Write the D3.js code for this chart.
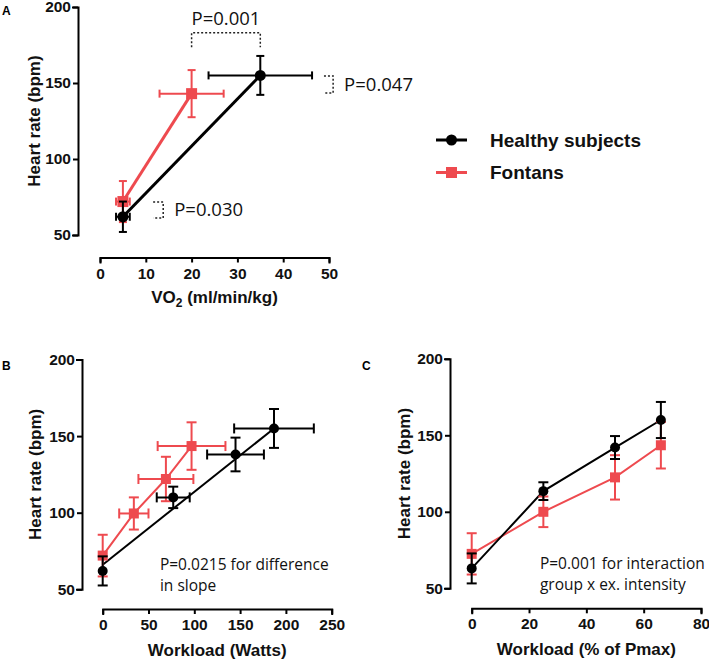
<!DOCTYPE html>
<html>
<head>
<meta charset="utf-8">
<script src="https://cdn.jsdelivr.net/npm/d3@7"></script>
<style>
  body { margin: 0; background: #fff; }
  svg { display: block; font-family: "Liberation Sans", Arial, sans-serif; }
  .axis path, .axis line { stroke: #000; stroke-width: 2; }
  .axis text { font-family: "Liberation Sans", Arial, sans-serif; font-size: 15.5px; font-weight: bold; fill: #111; }
  .title { font-size: 17px; font-weight: bold; fill: #111; }
  .note { font-family: "Open Sans", "Noto Sans", sans-serif; fill: #111; }
  .panel { font-size: 12px; font-weight: bold; }
</style>
</head>
<body>
<svg id="chart" width="709" height="660"></svg>
<script>
const groups = ['Healthy subjects', 'Fontans'];
const colors = ['#000000', '#ee4a4f'];

// panel A: VO2 vs heart rate (mean, sd)
const aHealthy = [
  { x: 5, xe: 1.5, y: 62, ye: 10 },
  { x: 35, xe: 11.3, y: 155, ye: 12.8 }
];
const aFontan = [
  { x: 5, xe: 1.5, y: 72, ye: 13.5 },
  { x: 20, xe: 7, y: 143, ye: 15.5 }
];

// panel B: workload in watts
const bHealthy = [
  { x: 0, xe: 0, y: 62, ye: 9.5 },
  { x: 77, xe: 18, y: 110, ye: 7 },
  { x: 145, xe: 31, y: 138, ye: 11 },
  { x: 187, xe: 43.5, y: 155, ye: 12.7 }
];
const bHealthyFit = [{ x: 0, y: 66 }, { x: 187, y: 155 }];
const bFontan = [
  { x: 0, xe: 0, y: 72, ye: 13.6 },
  { x: 34, xe: 16, y: 99.5, ye: 10.5 },
  { x: 69, xe: 30, y: 122, ye: 14.5 },
  { x: 97, xe: 37, y: 143.5, ye: 15.5 }
];

// panel C: workload in % of Pmax
const cHealthy = [
  { x: 0, xe: 0, y: 63, ye: 9.8 },
  { x: 25, xe: 0, y: 113.5, ye: 5.8 },
  { x: 50, xe: 0, y: 142, ye: 7.5 },
  { x: 66, xe: 0, y: 160, ye: 11.8 }
];
const cFontan = [
  { x: 0, xe: 0, y: 72.5, ye: 13.5 },
  { x: 25, xe: 0, y: 100, ye: 10 },
  { x: 50, xe: 0, y: 122.5, ye: 14.5 },
  { x: 66, xe: 0, y: 143.5, ye: 15.2 }
];

const yTicks = [50, 100, 150, 200];
const aXTicks = [0, 10, 20, 30, 40, 50];
const bXTicks = [0, 50, 100, 150, 200, 250];
const cXTicks = [0, 20, 40, 60, 80];

const svg = d3.select('#chart');

function makePanel(opt) {
  const g = svg.append('g');
  const x = d3.scaleLinear().domain(opt.xDomain).range(opt.xRange);
  const y = d3.scaleLinear().domain([50, 200]).range(opt.yRange);

  // y axis
  g.append('g')
    .attr('class', 'axis')
    .attr('transform', `translate(${opt.yAxisX},0)`)
    .call(d3.axisLeft(y).tickValues(yTicks).tickSizeOuter(0).tickSize(5).tickPadding(2));

  // x axis, offset below the plot
  g.append('g')
    .attr('class', 'axis')
    .attr('transform', `translate(0,${opt.xAxisY})`)
    .call(d3.axisBottom(x).tickValues(opt.xTicks).tickSizeOuter(0).tickSize(5).tickPadding(5));

  g.selectAll('.axis .domain').attr('stroke-linecap', 'square');

  // y title
  g.append('text')
    .attr('class', 'title')
    .attr('text-anchor', 'middle')
    .attr('transform', `translate(${opt.yTitleX},${(opt.yRange[0] + opt.yRange[1]) / 2}) rotate(-90)`)
    .attr('dy', '0.35em')
    .text('Heart rate (bpm)');

  // x title
  const xt = g.append('text')
    .attr('class', 'title')
    .attr('text-anchor', 'middle')
    .attr('x', (opt.xRange[0] + opt.xRange[1]) / 2)
    .attr('y', opt.xTitleY);
  if (opt.vo2) {
    xt.append('tspan').text('VO');
    xt.append('tspan').attr('font-size', 12).attr('dy', 4).text('2');
    xt.append('tspan').attr('dy', -4).text(' (ml/min/kg)');
  } else {
    xt.text(opt.xTitle);
  }

  // panel letter
  g.append('text')
    .attr('class', 'panel')
    .attr('x', opt.letterX)
    .attr('y', opt.letterY)
    .text(opt.letter);

  const series = [
    { data: opt.fontan, line: opt.fontan, color: colors[1], shape: 'square' },
    { data: opt.healthy, line: opt.healthyLine || opt.healthy, color: colors[0], shape: 'circle' }
  ];

  const line = d3.line().x(d => x(d.x)).y(d => y(d.y));

  series.forEach(s => {
    g.append('path')
      .datum(s.line)
      .attr('fill', 'none')
      .attr('stroke', s.color)
      .attr('stroke-width', opt.lineWidth)
      .attr('d', line);
  });

  series.forEach(s => {
    const eb = g.append('g').attr('stroke', s.color).attr('stroke-width', 2).attr('fill', 'none');
    const cap = opt.cap;
    s.data.forEach(d => {
      // vertical bars
      eb.append('line').attr('x1', x(d.x)).attr('x2', x(d.x))
        .attr('y1', y(d.y - d.ye)).attr('y2', y(d.y + d.ye));
      eb.append('line').attr('x1', x(d.x) - cap).attr('x2', x(d.x) + cap)
        .attr('y1', y(d.y + d.ye)).attr('y2', y(d.y + d.ye));
      eb.append('line').attr('x1', x(d.x) - cap).attr('x2', x(d.x) + cap)
        .attr('y1', y(d.y - d.ye)).attr('y2', y(d.y - d.ye));
      if (d.xe > 0) {
        eb.append('line').attr('x1', x(d.x - d.xe)).attr('x2', x(d.x + d.xe))
          .attr('y1', y(d.y)).attr('y2', y(d.y));
        eb.append('line').attr('x1', x(d.x - d.xe)).attr('x2', x(d.x - d.xe))
          .attr('y1', y(d.y) - cap).attr('y2', y(d.y) + cap);
        eb.append('line').attr('x1', x(d.x + d.xe)).attr('x2', x(d.x + d.xe))
          .attr('y1', y(d.y) - cap).attr('y2', y(d.y) + cap);
      }
    });

    const m = opt.marker;
    if (s.shape === 'circle') {
      g.selectAll(null).data(s.data).join('circle')
        .attr('cx', d => x(d.x)).attr('cy', d => y(d.y))
        .attr('r', m / 2).attr('fill', s.color);
    } else {
      g.selectAll(null).data(s.data).join('rect')
        .attr('x', d => x(d.x) - m / 2).attr('y', d => y(d.y) - m / 2)
        .attr('width', m).attr('height', m).attr('fill', s.color);
    }
  });

  // notes
  if (opt.note) {
    const t = g.append('text')
      .attr('class', 'note')
      .attr('font-size', 15.5)
      .attr('x', x(opt.note.x))
      .attr('y', y(opt.note.y));
    opt.note.lines.forEach((l, i) => {
      t.append('tspan').attr('x', x(opt.note.x)).attr('dy', i === 0 ? 0 : 21).text(l);
    });
  }

  return { g, x, y };
}

// panel A
const A = makePanel({
  letter: 'A', letterX: 2, letterY: 15,
  xDomain: [0, 50], xRange: [100, 329], yRange: [235, 7],
  yAxisX: 78, xAxisY: 257.5, xTicks: aXTicks,
  yTitleX: 34, xTitleY: 303, vo2: true,
  healthy: aHealthy, fontan: aFontan,
  lineWidth: 3, cap: 4, marker: 11
});

// significance brackets in panel A
const brackets = [
  { label: 'P=0.001', x0: 20, x1: 35, y0: 183, y1: 173.5, kind: 'top' },
  { label: 'P=0.047', x0: 48.9, x1: 50.9, y0: 154.6, y1: 143.4, kind: 'side' },
  { label: 'P=0.030', x0: 11.6, x1: 13.8, y0: 71.7, y1: 61.2, kind: 'side' }
];
brackets.forEach(b => {
  const bx = A.x, by = A.y;
  let pts;
  if (b.kind === 'top') {
    pts = [[bx(b.x0), by(b.y1)], [bx(b.x0), by(b.y0)], [bx(b.x1), by(b.y0)], [bx(b.x1), by(b.y1)]];
  } else {
    pts = [[bx(b.x0), by(b.y0)], [bx(b.x1), by(b.y0)], [bx(b.x1), by(b.y1)], [bx(b.x0), by(b.y1)]];
  }
  A.g.append('path')
    .attr('d', d3.line()(pts))
    .attr('fill', 'none')
    .attr('stroke', '#222')
    .attr('stroke-width', 1.5)
    .attr('stroke-dasharray', '2,2');
  const t = A.g.append('text').attr('class', 'note').attr('font-size', 18.5).text(b.label);
  if (b.kind === 'top') {
    t.attr('x', (bx(b.x0) + bx(b.x1)) / 2).attr('y', by(b.y0) - 8).attr('text-anchor', 'middle');
  } else {
    t.attr('x', bx(b.x1) + 11).attr('y', (by(b.y0) + by(b.y1)) / 2).attr('dy', '0.35em');
  }
});

// legend
const legend = svg.append('g').attr('transform', 'translate(436,140)');
groups.forEach((name, i) => {
  const row = legend.append('g').attr('transform', `translate(0,${i * 32.5})`);
  row.append('line').attr('x1', 0).attr('x2', 31).attr('stroke', colors[i]).attr('stroke-width', 3);
  if (i === 0) {
    row.append('circle').attr('cx', 15.5).attr('r', 5.5).attr('fill', colors[i]);
  } else {
    row.append('rect').attr('x', 10).attr('y', -5.5).attr('width', 11).attr('height', 11).attr('fill', colors[i]);
  }
  row.append('text')
    .attr('x', 54).attr('dy', '0.35em')
    .attr('font-size', 19).attr('font-weight', 'bold').attr('fill', '#111')
    .text(name);
});

// panel B
makePanel({
  letter: 'B', letterX: 2, letterY: 370,
  xDomain: [0, 250], xRange: [102.7, 331.7], yRange: [589.3, 359.5],
  yAxisX: 82, xAxisY: 609, xTicks: bXTicks,
  yTitleX: 35, xTitleY: 656, xTitle: 'Workload (Watts)',
  healthy: bHealthy, healthyLine: bHealthyFit, fontan: bFontan,
  lineWidth: 2, cap: 5, marker: 10,
  note: { x: 62.5, y: 62.6, lines: ['P=0.0215 for difference', 'in slope'] }
});

// panel C
makePanel({
  letter: 'C', letterX: 362, letterY: 370,
  xDomain: [0, 80], xRange: [471.7, 701], yRange: [588.3, 358.8],
  yAxisX: 450, xAxisY: 608.3, xTicks: cXTicks,
  yTitleX: 404, xTitleY: 655, xTitle: 'Workload (% of Pmax)',
  healthy: cHealthy, fontan: cFontan,
  lineWidth: 2, cap: 5, marker: 10,
  note: { x: 23.8, y: 62.6, lines: ['P=0.001 for interaction', 'group x ex. intensity'] }
});
</script>
</body>
</html>
